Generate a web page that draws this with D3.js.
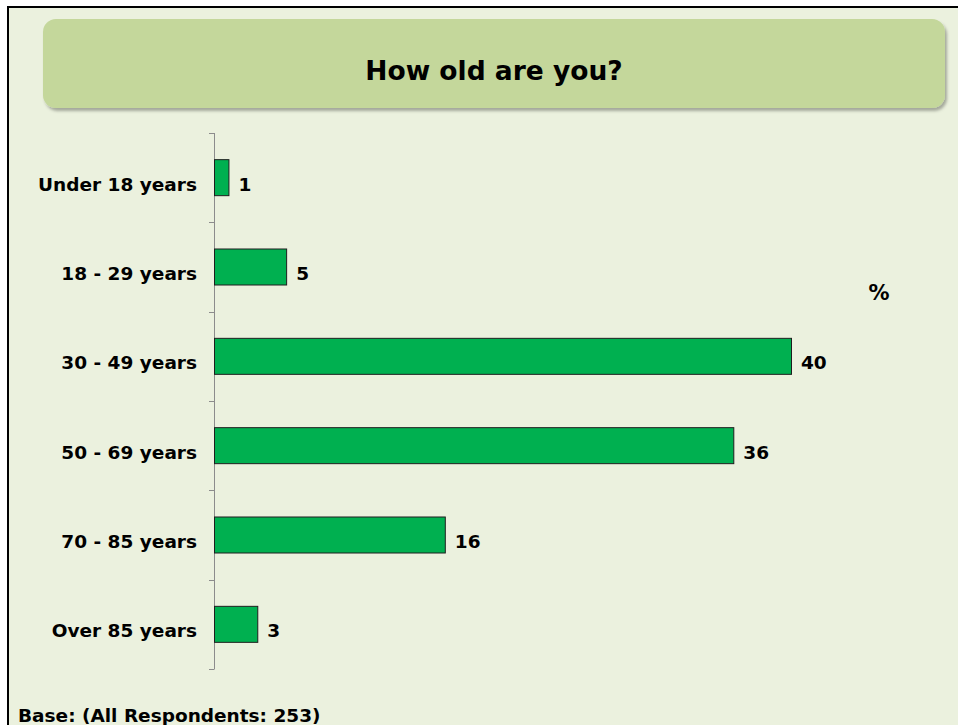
<!DOCTYPE html>
<html>
<head>
<meta charset="utf-8">
<script src="https://cdn.jsdelivr.net/npm/d3@7"></script>
<style>
body { margin: 0; background: #fff; overflow: hidden; }
text { font-family: "DejaVu Sans", Verdana, sans-serif; font-weight: bold; fill: #000; }
.tick-line { stroke: #8c8c8c; stroke-width: 1; }
.bar { fill: #00b050; stroke: #1e1e1e; stroke-width: 1; }
</style>
</head>
<body>
<script>
// data
var categories = ["Under 18 years", "18 - 29 years", "30 - 49 years", "50 - 69 years", "70 - 85 years", "Over 85 years"];
var values = [1, 5, 40, 36, 16, 3];
var title = "How old are you?";
var baseNote = "Base: (All Respondents: 253)";

var width = 958, height = 725;

var svg = d3.select("body").append("svg")
    .attr("width", width)
    .attr("height", height)
    .style("display", "block");

var defs = svg.append("defs");
var f = defs.append("filter").attr("id", "shadow")
    .attr("x", "-5%").attr("y", "-20%").attr("width", "110%").attr("height", "150%");
f.append("feDropShadow")
    .attr("dx", 2).attr("dy", 3).attr("stdDeviation", 1.5)
    .attr("flood-color", "#000").attr("flood-opacity", 0.3);

// outer frame (right and bottom edges run off the page)
svg.append("rect")
    .attr("x", 8).attr("y", 7)
    .attr("width", 1100).attr("height", 800)
    .attr("fill", "#ebf1de")
    .attr("stroke", "#000")
    .attr("stroke-width", 2);

// title box
svg.append("rect")
    .attr("x", 43).attr("y", 19)
    .attr("width", 902).attr("height", 89)
    .attr("rx", 13).attr("ry", 13)
    .attr("fill", "#c4d79b")
    .attr("filter", "url(#shadow)");

svg.append("text")
    .attr("x", 494).attr("y", 80)
    .attr("text-anchor", "middle")
    .style("font-size", "26.5px")
    .text(title);

// scales
var y = d3.scaleBand()
    .domain(categories)
    .range([133, 669])
    .paddingInner(0.597)
    .paddingOuter(0.2985);

var x = d3.scaleLinear()
    .domain([0, 40])
    .range([214, 791]);

// axis line + ticks at category boundaries
var half = y.step() * y.paddingInner() / 2;
var bounds = categories.map(function(d) { return y(d) - half; });
bounds.push(y(categories[categories.length - 1]) + y.bandwidth() + half);

svg.append("line")
    .attr("class", "tick-line")
    .attr("x1", x(0) + 0.5).attr("x2", x(0) + 0.5)
    .attr("y1", bounds[0]).attr("y2", bounds[bounds.length - 1]);

svg.selectAll(".tk")
    .data(bounds)
    .enter().append("line")
    .attr("class", "tick-line")
    .attr("x1", x(0) - 5).attr("x2", x(0) + 0.5)
    .attr("y1", function(d) { return Math.round(d) + 0.5; })
    .attr("y2", function(d) { return Math.round(d) + 0.5; });

// bars
svg.selectAll(".bar")
    .data(values)
    .enter().append("rect")
    .attr("class", "bar")
    .attr("x", x(0) + 0.5)
    .attr("y", function(d, i) { return y(categories[i]); })
    .attr("width", function(d) { return x(d) - x(0); })
    .attr("height", y.bandwidth());

// category labels
svg.selectAll(".cat")
    .data(categories)
    .enter().append("text")
    .attr("class", "cat")
    .attr("x", 197)
    .attr("y", function(d) { return y(d) + y.bandwidth() / 2 + 13; })
    .attr("text-anchor", "end")
    .style("font-size", "18.5px")
    .text(function(d) { return d; });

// value labels
svg.selectAll(".val")
    .data(values)
    .enter().append("text")
    .attr("class", "val")
    .attr("x", function(d) { return x(d) + 10; })
    .attr("y", function(d, i) { return y(categories[i]) + y.bandwidth() / 2 + 13; })
    .style("font-size", "18.5px")
    .text(function(d) { return d; });

// unit label
svg.append("text")
    .attr("x", 879).attr("y", 300)
    .attr("text-anchor", "middle")
    .style("font-size", "21px")
    .text("%");

// base note
svg.append("text")
    .attr("x", 18).attr("y", 722)
    .style("font-size", "18.5px")
    .text(baseNote);
</script>
</body>
</html>
